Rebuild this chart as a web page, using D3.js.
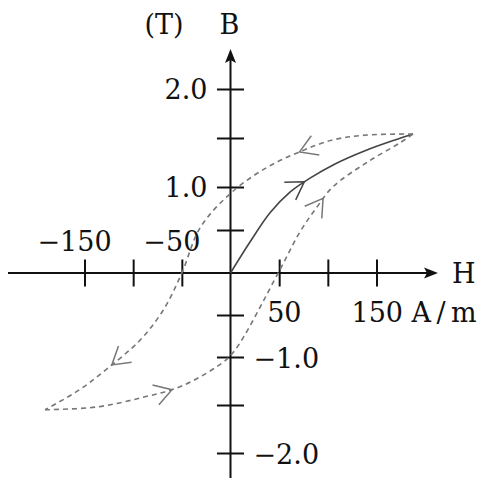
<!DOCTYPE html>
<html>
<head>
<meta charset="utf-8">
<script src="https://cdn.jsdelivr.net/npm/d3@7/dist/d3.min.js"></script>
<style>
  html, body { margin: 0; padding: 0; background: #fff; }
  svg { display: block; }
  text { font-family: "DejaVu Serif", "Liberation Serif", serif; fill: #111; }
</style>
</head>
<body>
<svg id="chart" width="490" height="481"></svg>
<script>
// Hysteresis loop of a ferromagnetic material: B (T) against H (A/m)

// Axis ticks
const hTicks = [-150, -100, -50, 50, 100, 150];
const bTicks = [-2, -1.5, -1, -0.5, 0.5, 1, 1.5, 2];

// Tick labels (value, text)
const hLabelsAbove = [[-150, "\u2212150"], [-50, "\u221250"]];
const hLabelsBelow = [[50, "50"], [150, "150 A\u2009/\u2009m"]];
const bLabelsLeft = [[2, "2.0"], [1, "1.0"]];
const bLabelsRight = [[-1, "\u22121.0"], [-2, "\u22122.0"]];

// Initial magnetisation curve (solid)
const initialH = [0, 20, 40.6, 61.1, 81.7, 107.4, 138.2, 169, 187.5];
const initialB = [0, 0.36, 0.7, 0.94, 1.09, 1.235, 1.37, 1.48, 1.54];

// Descending branch (dashed, from +saturation to -saturation)
const descH = [187.5, 140, 105, 71.4, 37.5, 1.5, -31, -50, -69, -93, -124, -155, -190.5];
const descB = [1.54, 1.53, 1.48, 1.36, 1.2, 0.94, 0.53, 0, -0.44, -0.8, -1.1, -1.34, -1.55];

// Ascending branch (dashed, from -saturation back to +saturation)
const ascH = [-190.5, -137, -90, -52, -14, 2.5, 49, 71, 89, 105, 140, 174, 187.5];
const ascB = [-1.55, -1.52, -1.42, -1.31, -1.1, -0.95, 0, 0.47, 0.77, 1.0, 1.25, 1.45, 1.54];

// Direction markers: branch and the H where the arrow sits
const arrowsAt = [
  { branch: "initial", H: 76 },
  { branch: "desc", H: 71 },
  { branch: "desc", H: -122 },
  { branch: "asc", H: -60 },
  { branch: "asc", H: 95 }
];

const svg = d3.select("#chart");

const x = d3.scaleLinear().domain([-150, 150]).range([84.5, 376.5]);
const y = d3.scaleLinear().domain([-2, -1, 0, 1, 2]).range([453, 357, 273, 187, 89]);

const x0 = x(0), y0 = y(0);
const ink = "#111";

// Axis lines with arrowheads
svg.append("line").attr("x1", 8).attr("x2", 430).attr("y1", y0).attr("y2", y0)
  .attr("stroke", ink).attr("stroke-width", 2);
svg.append("path")
  .attr("d", `M438,${y0} L424,${y0 - 5.5} L427,${y0} L424,${y0 + 5.5} Z`)
  .attr("fill", ink);

svg.append("line").attr("x1", x0).attr("x2", x0).attr("y1", 478).attr("y2", 56)
  .attr("stroke", ink).attr("stroke-width", 2);
svg.append("path")
  .attr("d", `M${x0},49 L${x0 - 5.5},63 L${x0},60 L${x0 + 5.5},63 Z`)
  .attr("fill", ink);

// Cross ticks
const tickLen = 27;
const hAxis = d3.axisBottom(x).tickValues(hTicks).tickSize(tickLen).tickFormat("");
svg.append("g").attr("transform", `translate(0,${y0 - tickLen / 2})`).call(hAxis)
  .call(g => g.select(".domain").remove())
  .call(g => g.selectAll(".tick line").attr("stroke", ink).attr("stroke-width", 2));

const bAxis = d3.axisRight(y).tickValues(bTicks).tickSize(tickLen).tickFormat("");
svg.append("g").attr("transform", `translate(${x0 - tickLen / 2},0)`).call(bAxis)
  .call(g => g.select(".domain").remove())
  .call(g => g.selectAll(".tick line").attr("stroke", ink).attr("stroke-width", 2));

// Tick labels
const fs = 27;
svg.selectAll("text.hla").data(hLabelsAbove).join("text").attr("class", "hla")
  .attr("x", d => x(d[0]) - 10).attr("y", y0 - 22)
  .attr("text-anchor", "middle").attr("font-size", fs).text(d => d[1]);

svg.selectAll("text.hlb").data(hLabelsBelow).join("text").attr("class", "hlb")
  .attr("x", (d, i) => i === 0 ? x(d[0]) - 12 : x(d[0]) - 25).attr("y", y0 + 49)
  .attr("text-anchor", "start").attr("font-size", fs).text(d => d[1]);

svg.selectAll("text.bll").data(bLabelsLeft).join("text").attr("class", "bll")
  .attr("x", x0 - 23).attr("y", d => y(d[0]) + 10)
  .attr("text-anchor", "end").attr("font-size", fs).text(d => d[1]);

svg.selectAll("text.blr").data(bLabelsRight).join("text").attr("class", "blr")
  .attr("x", x0 + 23).attr("y", d => y(d[0]) + 11)
  .attr("text-anchor", "start").attr("font-size", fs).text(d => d[1]);

// Axis titles
svg.append("text").attr("x", 452).attr("y", y0 + 10).attr("font-size", fs).text("H");
svg.append("text").attr("x", x0 - 1).attr("y", 34).attr("text-anchor", "middle")
  .attr("font-size", fs).text("B");
svg.append("text").attr("x", 164).attr("y", 34).attr("text-anchor", "middle")
  .attr("font-size", fs).text("(T)");

// Curves
const line = d3.line().x(d => x(d[0])).y(d => y(d[1])).curve(d3.curveCatmullRom.alpha(0.5));
const branches = {
  initial: d3.zip(initialH, initialB),
  desc: d3.zip(descH, descB),
  asc: d3.zip(ascH, ascB)
};
const styles = {
  initial: { stroke: "#444", dash: null, width: 1.6 },
  desc: { stroke: "#777", dash: "5,4", width: 1.6 },
  asc: { stroke: "#777", dash: "5,4", width: 1.6 }
};

const paths = {};
for (const key of Object.keys(branches)) {
  const s = styles[key];
  paths[key] = svg.append("path")
    .attr("d", line(branches[key]))
    .attr("fill", "none")
    .attr("stroke", s.stroke)
    .attr("stroke-width", s.width)
    .attr("stroke-dasharray", s.dash)
    .node();
}

// Open chevrons showing the direction of travel
function lengthAtX(node, px) {
  const total = node.getTotalLength();
  let best = 0, bestD = Infinity;
  for (let l = 0; l <= total; l += 0.5) {
    const p = node.getPointAtLength(l);
    const d = Math.abs(p.x - px);
    if (d < bestD) { bestD = d; best = l; }
  }
  return best;
}

const armLen = 20, armAngle = 0.55;
for (const a of arrowsAt) {
  const node = paths[a.branch];
  const s = styles[a.branch];
  const l = lengthAtX(node, x(a.H));
  const p = node.getPointAtLength(l);
  const q = node.getPointAtLength(Math.max(0, l - 3));
  const back = Math.atan2(q.y - p.y, q.x - p.x);
  const a1 = back + armAngle, a2 = back - armAngle;
  svg.append("path")
    .attr("d", `M${p.x + armLen * Math.cos(a1)},${p.y + armLen * Math.sin(a1)} L${p.x},${p.y} L${p.x + armLen * Math.cos(a2)},${p.y + armLen * Math.sin(a2)}`)
    .attr("fill", "none")
    .attr("stroke", s.stroke)
    .attr("stroke-width", 1.5)
    .attr("stroke-linejoin", "miter");
}
</script>
</body>
</html>
